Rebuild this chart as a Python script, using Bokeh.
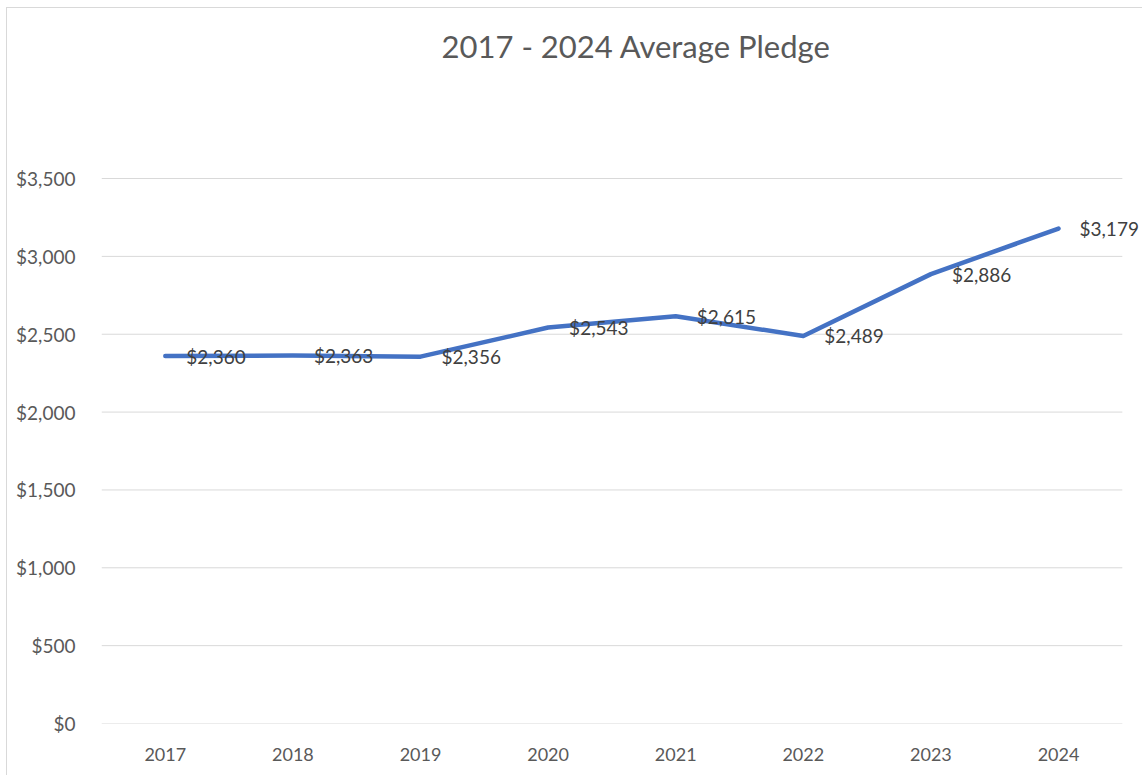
from bokeh.plotting import figure
from bokeh.models import Range1d, NumeralTickFormatter, FixedTicker
from bokeh.core.properties import value
from bokeh.embed import file_html
from bokeh.resources import INLINE

years = ["2017", "2018", "2019", "2020", "2021", "2022", "2023", "2024"]
avg_pledge = [2360, 2363, 2356, 2543, 2615, 2489, 2886, 3179]
pledge_labels = ["$2,360", "$2,363", "$2,356", "$2,543", "$2,615", "$2,489", "$2,886", "$3,179"]
y_ticks = [0, 500, 1000, 1500, 2000, 2500, 3000, 3500]
title_text = "2017 - 2024 Average Pledge"

FONT = "Lato"

idx = list(range(len(years)))
n = len(years)

p = figure(x_range=Range1d(-0.5, 7.666), y_range=Range1d(0, 4592),
           width=1136, height=768, margin=(7, 0, 0, 6),
           styles={"border-top": "1px solid #d9d9d9", "border-left": "1px solid #d9d9d9"},
           output_backend="svg", toolbar_location=None,
           min_border_left=94, min_border_right=0, min_border_top=0, min_border_bottom=53)

p.outline_line_color = None
p.background_fill_color = "white"
p.border_fill_color = "white"
p.xgrid.grid_line_color = None
p.ygrid.grid_line_color = None

# horizontal gridlines across the category band
p.segment(x0=[-0.5] * len(y_ticks), x1=[n - 0.5] * len(y_ticks), y0=y_ticks, y1=y_ticks,
          line_color="#d9d9d9", line_width=1)

p.yaxis.ticker = FixedTicker(ticks=y_ticks)
p.yaxis.formatter = NumeralTickFormatter(format="$0,0")
p.yaxis.axis_line_color = None
p.yaxis.major_tick_line_color = None
p.yaxis.minor_tick_line_color = None
p.yaxis.major_label_standoff = 20
p.yaxis.major_label_text_font = FONT
p.yaxis.major_label_text_font_size = "19px"
p.yaxis.major_label_text_color = "#595959"

p.xaxis.ticker = FixedTicker(ticks=idx)
p.xaxis.major_label_overrides = {i: y for i, y in zip(idx, years)}
p.xaxis.axis_line_color = None
p.xaxis.major_tick_line_color = None
p.xaxis.minor_tick_line_color = None
p.xaxis.major_label_standoff = 18
p.xaxis.major_label_text_font = FONT
p.xaxis.major_label_text_font_size = "18px"
p.xaxis.major_label_text_color = "#595959"

p.line(x=idx, y=avg_pledge, line_color="#4472C4", line_width=4.5,
       line_join="round", line_cap="round")

p.text(x=idx, y=avg_pledge, text=pledge_labels, x_offset=21,
       text_align="left", text_baseline="middle",
       text_font=value(FONT), text_font_size="19px", text_color="#404040")

# chart title
p.text(x=[3.69], y=[4354], text=[title_text], text_align="center", text_baseline="middle",
       text_font=value(FONT), text_font_size="31px", text_color="#595959")

open("out.html", "w").write(file_html(p, INLINE))
